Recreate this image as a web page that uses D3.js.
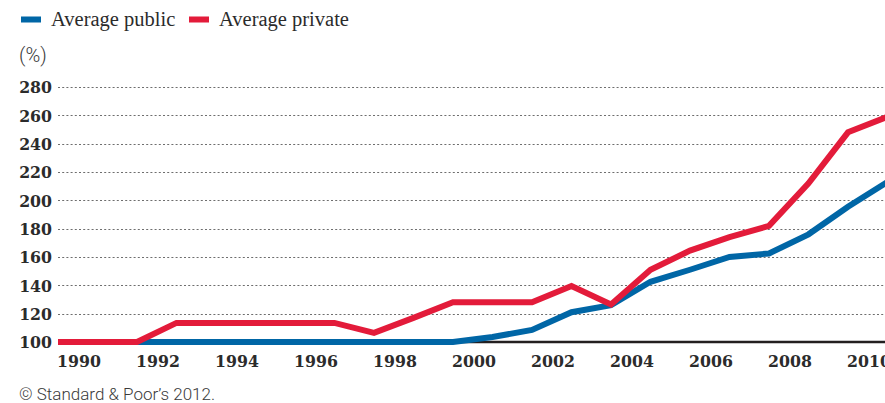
<!DOCTYPE html>
<html>
<head>
<meta charset="utf-8">
<script src="https://cdn.jsdelivr.net/npm/d3@7"></script>
<style>
  body { margin: 0; background: #fff; }
  .tick-label { font-family: "DejaVu Serif", serif; font-stretch: condensed; font-weight: bold; font-size: 17.5px; fill: #2b2b2b; }
  .legend-label { font-family: "Liberation Serif", serif; font-size: 20.5px; fill: #2b2b2b; }
  .note { font-family: Roboto, sans-serif; font-weight: 300; font-size: 17px; fill: #3a3a3a; }
</style>
</head>
<body>
<div id="chart"></div>
<script>
// data: one value per year boundary, 1990..2011
var years = d3.range(1990, 2012);
var publicValues = [100, 100, 100, 100, 100, 100, 100, 100, 100, 100, 100, 103.5, 108.5, 121, 126, 142.5, 151, 160, 162.5, 176, 195.5, 213];
var privateValues = [100, 100, 100, 113.5, 113.5, 113.5, 113.5, 113.5, 106.5, 117, 128, 128, 128, 139.5, 126.5, 151, 164.5, 174, 182, 212, 248, 259];
var yTicks = [100, 120, 140, 160, 180, 200, 220, 240, 260, 280];
var xTickYears = [1990, 1992, 1994, 1996, 1998, 2000, 2002, 2004, 2006, 2008, 2010];
var seriesNames = ["Average public", "Average private"];
var seriesColors = ["#0066a6", "#e31b3a"];

var width = 885, height = 403;
var margin = {top: 87, right: 0, bottom: 61, left: 58};

var svg = d3.select("#chart").append("svg")
  .attr("width", width)
  .attr("height", height);

var x = d3.scaleLinear()
  .domain([1990, 2011])
  .range([margin.left, 887.5]);

var y = d3.scaleLinear()
  .domain([100, 280])
  .range([height - margin.bottom, margin.top]);

// gridlines
var grid = svg.append("g").attr("class", "grid");
grid.selectAll("line")
  .data(yTicks.filter((d) => d > 100))
  .enter()
  .append("line")
  .attr("x1", margin.left)
  .attr("x2", width)
  .attr("y1", (d) => Math.round(y(d)) + 0.5)
  .attr("y2", (d) => Math.round(y(d)) + 0.5)
  .attr("stroke", "#6e6e6e")
  .attr("stroke-width", 1.2)
  .attr("stroke-dasharray", "2,2.2");

// baseline
svg.append("line")
  .attr("x1", margin.left)
  .attr("x2", width)
  .attr("y1", y(100))
  .attr("y2", y(100))
  .attr("stroke", "#231f20")
  .attr("stroke-width", 2.5);

// y labels
svg.append("g").selectAll("text")
  .data(yTicks)
  .enter()
  .append("text")
  .attr("class", "tick-label")
  .attr("x", 52)
  .attr("y", (d) => y(d))
  .attr("dy", "0.36em")
  .attr("text-anchor", "end")
  .text((d) => d);

// x labels, centred in each year
svg.append("g").selectAll("text")
  .data(xTickYears)
  .enter()
  .append("text")
  .attr("class", "tick-label")
  .attr("x", (d) => x(d + 0.53))
  .attr("y", 367)
  .attr("text-anchor", "middle")
  .text((d) => d);

// lines
var line = d3.line()
  .x((d, i) => x(years[i]))
  .y((d) => y(d));

var lines = svg.append("g");
[publicValues, privateValues].forEach(function(vals, i) {
  lines.append("path")
    .datum(vals)
    .attr("d", line)
    .attr("fill", "none")
    .attr("stroke", seriesColors[i])
    .attr("stroke-width", 6)
    .attr("stroke-linejoin", "miter");
});

// legend
var legendX = [21, 189];
var legend = svg.append("g");
seriesNames.forEach(function(name, i) {
  legend.append("rect")
    .attr("x", legendX[i])
    .attr("y", 16.5)
    .attr("width", 20)
    .attr("height", 6)
    .attr("fill", seriesColors[i]);
  legend.append("text")
    .attr("class", "legend-label")
    .attr("x", legendX[i] + 30)
    .attr("y", 26)
    .text(name);
});

svg.append("text")
  .attr("class", "note")
  .attr("x", 19)
  .attr("y", 62)
  .style("font-size", "20px")
  .text("(%)");

svg.append("text")
  .attr("class", "note")
  .attr("x", 19)
  .attr("y", 400)
  .text("\u00a9 Standard & Poor\u2019s 2012.");
</script>
</body>
</html>
